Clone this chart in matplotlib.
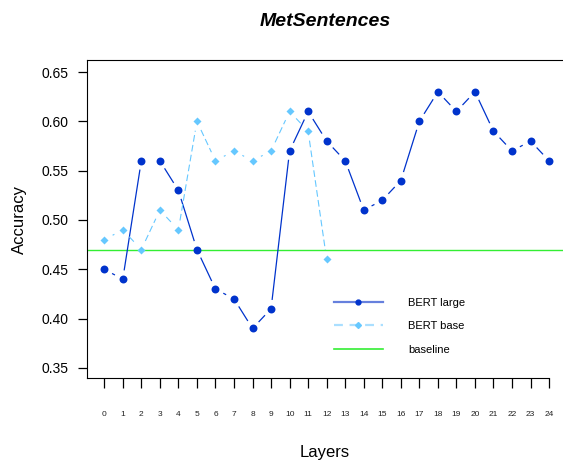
import numpy as np
import matplotlib
matplotlib.use("Agg")
import matplotlib.pyplot as plt
from matplotlib.lines import Line2D

plt.rcParams['font.family'] = ['Liberation Sans', 'DejaVu Sans']

layers = list(range(25))
bert_large = [0.45, 0.44, 0.56, 0.56, 0.53, 0.47, 0.43, 0.42, 0.39, 0.41, 0.57, 0.61, 0.58,
              0.56, 0.51, 0.52, 0.54, 0.60, 0.63, 0.61, 0.63, 0.59, 0.57, 0.58, 0.56]
base_layers = list(range(13))
bert_base = [0.48, 0.49, 0.47, 0.51, 0.49, 0.60, 0.56, 0.57, 0.56, 0.57, 0.61, 0.59, 0.46]
baseline = 0.47

large_col = '#0033cc'
base_col = '#66c8ff'
green = '#33ee33'


def gapped(ax, xs, ys, gap, **kw):
    # R style type="b": segments stop short of each point
    pts = ax.transData.transform(np.column_stack([xs, ys]))
    inv = ax.transData.inverted()
    for i in range(len(pts) - 1):
        p, q = pts[i], pts[i + 1]
        d = q - p
        L = np.hypot(*d)
        if L <= 2 * gap:
            continue
        u = d / L
        a = inv.transform(p + u * gap)
        b = inv.transform(q - u * gap)
        ax.plot([a[0], b[0]], [a[1], b[1]], **kw)


fig = plt.figure(figsize=(5.63, 4.61), dpi=100)
ax = fig.add_axes([87 / 563, 1 - 378 / 461, 1 - 87 / 563, (378 - 60) / 461])
ax.set_xlim(-0.93, 24.75)
ax.set_ylim(0.3398, 0.6622)

ax.axhline(baseline, color=green, lw=1.0)

gapped(ax, layers, bert_large, 9.5, color=large_col, lw=0.9)
ax.plot(layers, bert_large, 'o', color=large_col, ms=5.7, mec='none')

gapped(ax, base_layers, bert_base, 9.5, color=base_col, lw=0.8, linestyle=(0, (6, 3)))
ax.plot(base_layers, bert_base, 'D', color=base_col, ms=4.3, mec='none')

ax.spines['right'].set_visible(False)
ax.spines['bottom'].set_bounds(-0.93, 24)
ax.set_xticks(layers)
ax.set_xticklabels([str(i) for i in layers], fontsize=6, color='#222222')
ax.set_yticks([0.35, 0.40, 0.45, 0.50, 0.55, 0.60, 0.65])
ax.set_yticklabels(['0.35', '0.40', '0.45', '0.50', '0.55', '0.60', '0.65'], fontsize=10)
ax.tick_params(axis='x', length=7.5, width=0.9, pad=16)
ax.tick_params(axis='y', length=6.5, width=0.9, pad=7)

ax.set_xlabel('Layers', fontsize=12, labelpad=20)
ax.set_ylabel('Accuracy', fontsize=12, labelpad=10)
ax.set_title('MetSentences', fontsize=14, fontweight='bold', fontstyle='italic', pad=24.5)

handles = [
    Line2D([], [], color='#6680dd', lw=1.6, marker='o', ms=3.5, mfc=large_col, mec=large_col),
    Line2D([], [], color='#aadfff', lw=1.6, linestyle=(0, (4, 3)), marker='D', ms=3, mfc=base_col, mec=base_col),
    Line2D([], [], color=green, lw=1.2),
]
fig.legend(handles, ['BERT large', 'BERT base', 'baseline'], loc='upper left',
           bbox_to_anchor=(334 / 563, 1 - 298 / 461), frameon=False, fontsize=8,
           handlelength=4.4, handletextpad=2.3, labelspacing=1.2, borderpad=0, borderaxespad=0)

fig.savefig('out.png', dpi=100)
